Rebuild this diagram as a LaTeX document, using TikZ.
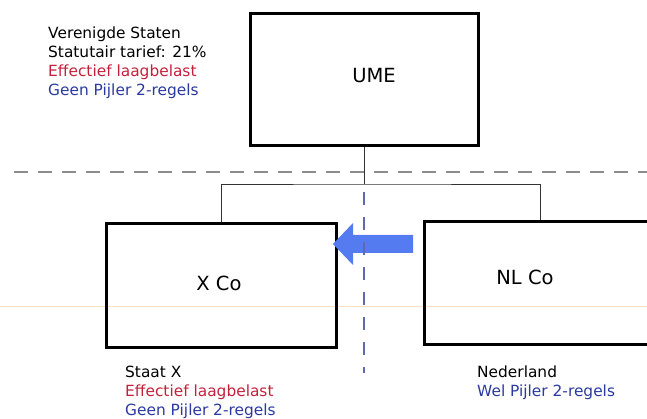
\documentclass[tikz,border=0pt]{standalone}
\usepackage{fontspec}
\setmainfont{DejaVu Sans}
\usepackage{tikz}

\definecolor{lowtax}{RGB}{196,32,60}
\definecolor{pillar}{RGB}{42,58,160}
\definecolor{flow}{RGB}{84,124,240}
\definecolor{divider}{RGB}{96,104,178}
\definecolor{scan}{RGB}{250,226,192}

\begin{document}
\begin{tikzpicture}[x=1pt,y=-1pt,
                    entity/.style={draw=black,line width=3pt,inner sep=0pt},
                    boxtext/.style={inner sep=0pt,font=\fontsize{19.5}{23}\selectfont},
                    info/.style={anchor=north west,align=left,inner sep=0pt,
                                 font=\fontsize{15.4}{19}\selectfont},
                    link/.style={draw=black!80,line width=0.9pt}]
  \tikzstyle{border}=[draw=black!45,line width=2pt,dash pattern=on 14pt off 10pt]
  \tikzstyle{divide}=[draw=divider,line width=2pt,dash pattern=on 13pt off 12pt]
  \useasboundingbox (0,0) rectangle (647,419);

  \draw[scan,line width=1pt] (0,306) -- (647,306);

  \node[entity,minimum width=228pt,minimum height=132pt] (ume)  at (364,80)    {};
  \node[entity,minimum width=230pt,minimum height=123pt] (xco)  at (221,285.5) {};
  \node[entity,minimum width=232pt,minimum height=122pt] (nlco) at (540,283)   {};

  \node[boxtext] (umetext) at (374,76)  {UME};
  \node[boxtext] (xcotext) at (219,283) {X Co};
  \node[boxtext] (nltext)  at (525,277) {NL Co};

  \node[info] (us) at (48,26.5) {Verenigde Staten\\Statutair tarief: 21\%\\
        \textcolor{lowtax}{Effectief laagbelast}\\\textcolor{pillar}{Geen Pijler 2-regels}};
  \node[info] (staatx) at (125,365.8) {Staat X\\\textcolor{lowtax}{Effectief laagbelast}\\
        \textcolor{pillar}{Geen Pijler 2-regels}};
  \node[info] (nl) at (477,365.3) {Nederland\\\textcolor{pillar}{Wel Pijler 2-regels}};

  % ownership lines
  \coordinate (split) at (364,184);
  \draw[link] (ume.south) -- (split);
  \draw[link] (xco.north) |- (split) -| (nlco.north);

  \draw[border] (14,172) -- (647,172);

  % flow from NL Co to X Co
  \fill[flow] (333,244) -- (353,223) -- (353,235) -- (413,235) -- (413,253)
              -- (353,253) -- (353,265) -- cycle;

  \draw[divide] (364,192) -- (364,373);
\end{tikzpicture}
\end{document}
